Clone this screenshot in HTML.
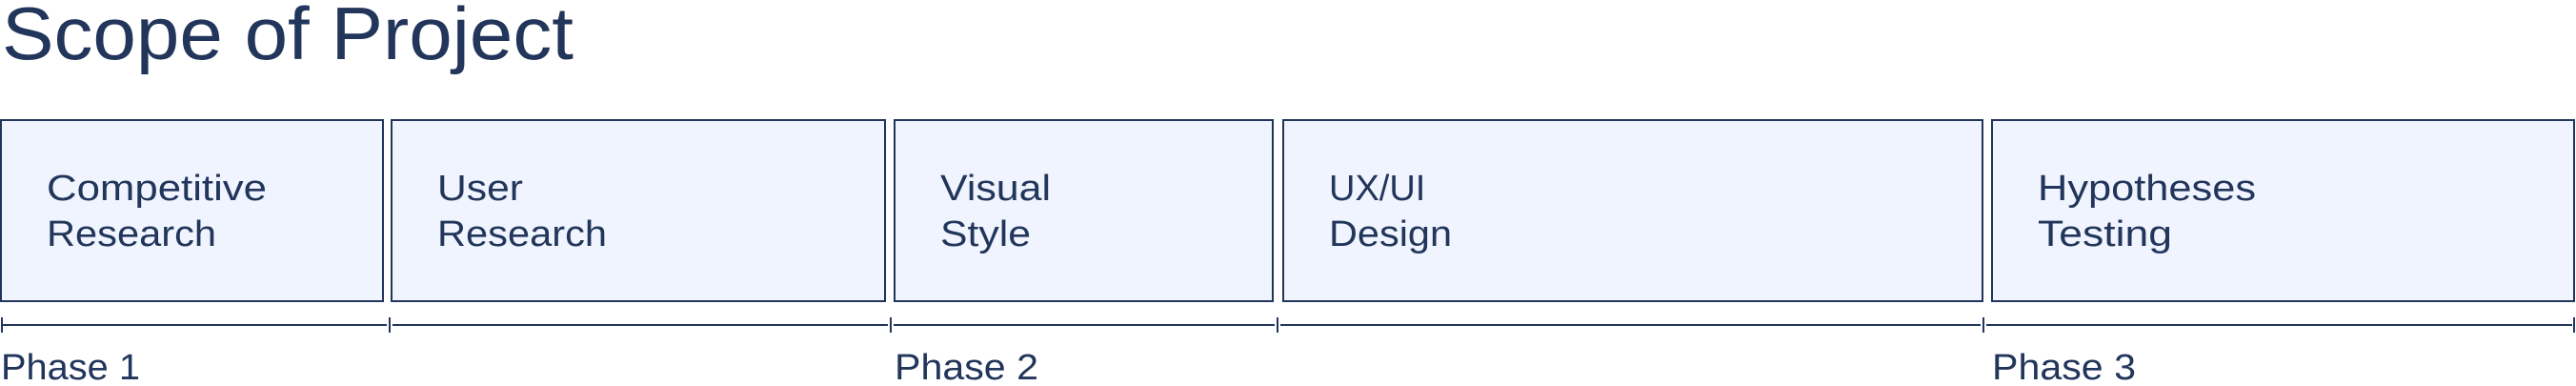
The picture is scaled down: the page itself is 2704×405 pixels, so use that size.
<!DOCTYPE html>
<html><head><meta charset="utf-8"><style>
html,body{margin:0;padding:0;background:#fff;width:2704px;height:405px;overflow:hidden}
svg{display:block}
text{font-family:"Liberation Sans",sans-serif;fill:#22355a}
</style></head><body>
<svg width="2704" height="405" viewBox="0 0 2704 405" xmlns="http://www.w3.org/2000/svg">
<text x="2" y="62" font-size="78" textLength="600" lengthAdjust="spacingAndGlyphs">Scope of Project</text>
<g fill="#eff4fe" stroke="#22355a" stroke-width="2">
<rect x="1" y="126" width="401" height="190"/>
<rect x="411" y="126" width="518" height="190"/>
<rect x="939" y="126" width="397" height="190"/>
<rect x="1347" y="126" width="734" height="190"/>
<rect x="2091" y="126" width="611" height="190"/>
</g>
<g font-size="38">
<text x="49" y="210" textLength="231" lengthAdjust="spacingAndGlyphs">Competitive</text><text x="49" y="258" textLength="178" lengthAdjust="spacingAndGlyphs">Research</text>
<text x="459" y="210" textLength="90" lengthAdjust="spacingAndGlyphs">User</text><text x="459" y="258" textLength="178" lengthAdjust="spacingAndGlyphs">Research</text>
<text x="987" y="210" textLength="116" lengthAdjust="spacingAndGlyphs">Visual</text><text x="987" y="258" textLength="95" lengthAdjust="spacingAndGlyphs">Style</text>
<text x="1395" y="210">UX/UI</text><text x="1395" y="258" textLength="129" lengthAdjust="spacingAndGlyphs">Design</text>
<text x="2139" y="210" textLength="229" lengthAdjust="spacingAndGlyphs">Hypotheses</text><text x="2139" y="258" textLength="141" lengthAdjust="spacingAndGlyphs">Testing</text>
</g>
<g stroke="#22355a" stroke-width="2">
<line x1="2" y1="341" x2="406" y2="341"/>
<line x1="412" y1="341" x2="932" y2="341"/>
<line x1="938" y1="341" x2="1338" y2="341"/>
<line x1="1344" y1="341" x2="2079" y2="341"/>
<line x1="2085" y1="341" x2="2700" y2="341"/>
<line x1="2" y1="333" x2="2" y2="349"/>
<line x1="409" y1="333" x2="409" y2="349"/>
<line x1="935" y1="333" x2="935" y2="349"/>
<line x1="1341" y1="333" x2="1341" y2="349"/>
<line x1="2082" y1="333" x2="2082" y2="349"/>
<line x1="2702" y1="333" x2="2702" y2="349"/>
</g>
<g font-size="38">
<text x="1" y="398" textLength="146" lengthAdjust="spacingAndGlyphs">Phase 1</text>
<text x="939" y="398" textLength="151" lengthAdjust="spacingAndGlyphs">Phase 2</text>
<text x="2091" y="398" textLength="151" lengthAdjust="spacingAndGlyphs">Phase 3</text>
</g>
</svg>
</body></html>
